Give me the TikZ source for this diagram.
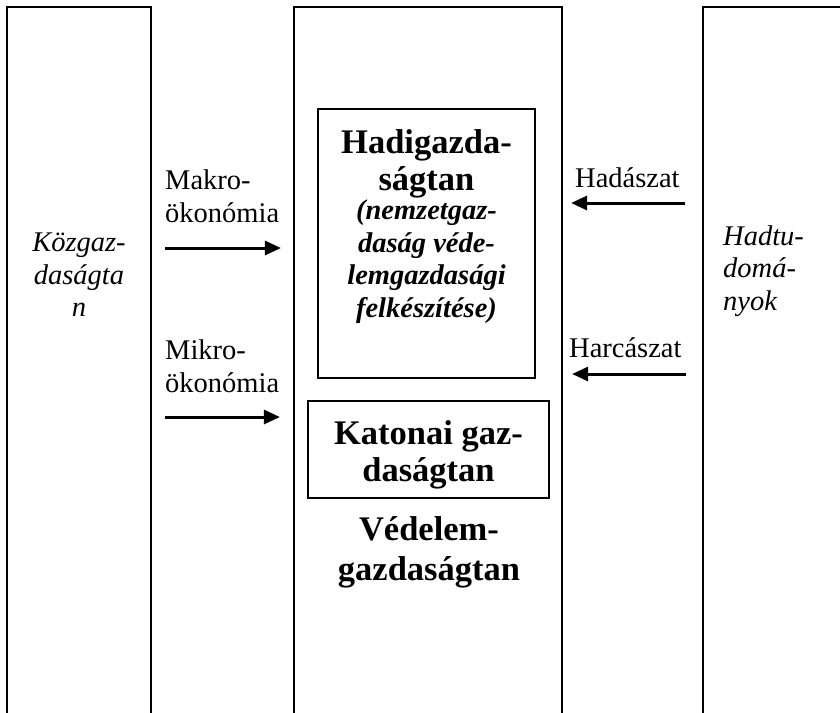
\documentclass[tikz,border=0pt]{standalone}
\usepackage{fontspec}
\setmainfont{Liberation Serif}
\usetikzlibrary{positioning, arrows.meta}

\begin{document}
\begin{tikzpicture}[x=1pt, y=-1pt,
  column/.style={rectangle, draw, line width=2.2pt, minimum height=740pt, anchor=north},
  inbox/.style={rectangle, draw, line width=2.2pt},
  plain/.style={font=\fontsize{28.5}{33}\selectfont, inner sep=0pt, align=left},
  slanted/.style={font=\fontsize{28.5}{32.5}\selectfont\itshape, inner sep=0pt},
  heavy/.style={font=\fontsize{34.5}{37}\selectfont\bfseries, inner sep=0pt, align=center},
  heavyslant/.style={font=\fontsize{28.5}{32.7}\selectfont\bfseries\itshape, inner sep=0pt, align=center},
  flow/.style={-{Triangle[length=16pt, width=14pt]}, line width=3pt}]
  \useasboundingbox (0,0) rectangle (840,712);
  % columns
  \node[column, minimum width=144pt] (kozgaz) at (79,6) {};
  \node[column, minimum width=268pt] (vedelem) at (428,6) {};
  \node[column, minimum width=160pt] (hadtud) at (783,6) {};
  \node[slanted, align=center] (kozgaztext) at (79,275) {Közgaz-\\daságta\\n};
  \node[slanted, align=left, anchor=west] (hadtudtext) at (723,271) {Hadtu-\\domá-\\nyok};
  % inner boxes
  \node[inbox, minimum width=217pt, minimum height=269pt] (hadibox) at (426.5,243.5) {};
  \node[heavy] (hadititle) at (426.5,163.5) {Hadigazda-\\ságtan};
  \node[heavyslant] (hadisub) at (426.5,261.5) {(nemzetgaz-\\daság véde-\\lemgazdasági\\felkészítése)};
  \node[inbox, minimum width=241pt, minimum height=97pt] (katbox) at (428.5,449.5) {};
  \node[heavy] (kattext) at (428.5,454.5) {Katonai gaz-\\daságtan};
  \node[heavy, font=\fontsize{34.5}{40}\selectfont\bfseries] (vedtext) at (429,552) {Védelem-\\gazdaságtan};
  % labels
  \node[plain, anchor=west] (makro) at (165,196) {Makro-\\ökonómia};
  \node[plain, anchor=west] (mikro) at (165,366) {Mikro-\\ökonómia};
  \node[plain, anchor=base west] (hadaszat) at (575,187) {Hadászat};
  \node[plain, anchor=base west] (harcaszat) at (569,357) {Harcászat};
  % arrows
  \coordinate (makrotail) at (165,248);
  \coordinate (mikrotail) at (165,417);
  \coordinate (hadaszatlvl) at (0,203);
  \coordinate (harcaszatlvl) at (0,374);
  \draw[flow, shorten >=12pt] (makrotail) -- (makrotail -| vedelem.west);
  \draw[flow, shorten >=13pt] (mikrotail) -- (mikrotail -| vedelem.west);
  \draw[flow, shorten <=17pt, shorten >=8pt] (hadaszatlvl -| hadtud.west) -- (hadaszatlvl -| vedelem.east);
  \draw[flow, shorten <=16pt, shorten >=9pt] (harcaszatlvl -| hadtud.west) -- (harcaszatlvl -| vedelem.east);
\end{tikzpicture}
\end{document}
